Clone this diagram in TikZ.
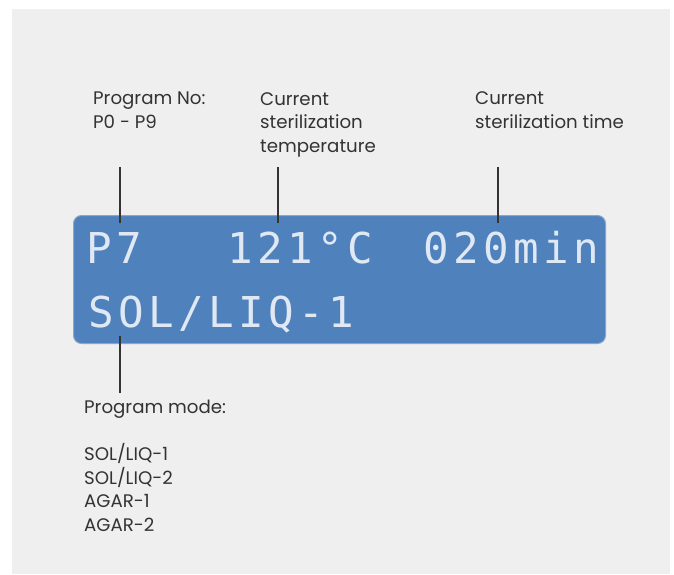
\documentclass[tikz,border=0pt]{standalone}
\usepackage{fontspec}
\setmainfont{Poppins}
\newfontfamily\lcdfont[LetterSpace=10.4]{DejaVu Sans Mono}
\definecolor{bggray}{HTML}{EFEFEF}
\definecolor{lcdblue}{HTML}{4F81BD}
\definecolor{lcdedge}{HTML}{86A7D4}
\definecolor{labeltext}{HTML}{333333}
\tikzset{
  label text/.style={anchor=base west, inner sep=0pt, align=left, text=labeltext,
    font=\fontsize{18.2}{23.6}\selectfont},
  lcd text/.style={anchor=base west, inner sep=0pt, text=white!82!lcdblue,
    font=\lcdfont\fontsize{42.5}{42.5}\selectfont},
  pointer/.style={draw=labeltext, line width=1.5pt},
}
\begin{document}
\begin{tikzpicture}[x=1pt,y=-1pt]
\useasboundingbox (0,0) rectangle (674,574);
\fill[white] (0,0) rectangle (674,574);
\fill[bggray] (12,9) rectangle (670,574);
% LCD
\node[draw=lcdedge, line width=1pt, fill=lcdblue, rounded corners=8pt,
  minimum width=532pt, minimum height=128pt, anchor=north west, inner sep=0pt]
  (lcd) at (73,215) {};
\node[lcd text] (prog) at (86,263) {P7};
\node[lcd text] (temp) at (227,263) {121°C};
\node[lcd text] (time) at (423,263) {020min};
\node[lcd text] (mode) at (88,327) {SOL/LIQ-1};
% labels (anchored at the baseline of their last line)
\node[label text] (lprog) at (93,128) {Program No:\\P0 - P9};
\node[label text] (ltemp) at (260,152.5) {Current\\sterilization\\temperature};
\node[label text] (ltime) at (475,128) {Current\\sterilization time};
\node[label text] (lmode) at (84,531.5) {Program mode:\\[23.6pt]SOL/LIQ-1\\SOL/LIQ-2\\AGAR-1\\AGAR-2};
% pointers
\coordinate (p1a) at (120,167); \coordinate (p1b) at (120,223);
\coordinate (p2a) at (278,167); \coordinate (p2b) at (278,223);
\coordinate (p3a) at (498,167); \coordinate (p3b) at (498,223);
\coordinate (p4a) at (120,336); \coordinate (p4b) at (120,393);
\draw[pointer] (p1a) -- (p1b);
\draw[pointer] (p2a) -- (p2b);
\draw[pointer] (p3a) -- (p3b);
\draw[pointer] (p4a) -- (p4b);
\end{tikzpicture}
\end{document}
